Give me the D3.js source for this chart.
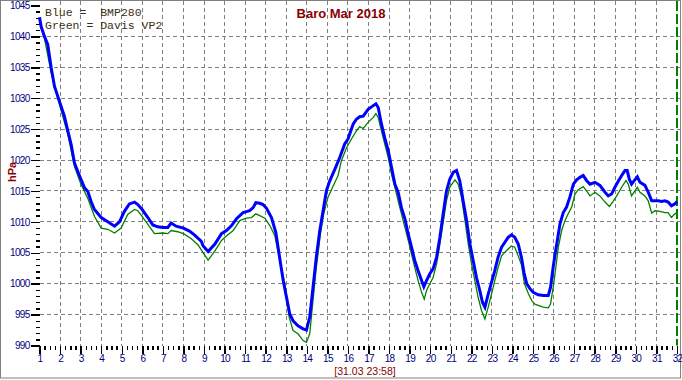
<!DOCTYPE html>
<html lang="en">
<head>
<meta charset="utf-8">
<title>Baro Mar 2018</title>
<script src="https://d3js.org/d3.v7.min.js"></script>
<style>
body {
  margin: 0;
  background: #fff;
}

.axis text {
  font: 10px "Liberation Sans", Arial, sans-serif;
  letter-spacing: -0.7px;
  fill: #000080;
}

.axis line {
  stroke: #000;
  stroke-width: 1.5;
  shape-rendering: crispEdges;
}

.grid line {
  stroke: #808080;
  stroke-width: 1;
  stroke-dasharray: 4,3;
  shape-rendering: crispEdges;
}

.legend {
  font: 11.5px "Liberation Mono", "Courier New", monospace;
  fill: #3c2f14;
  white-space: pre;
}
</style>
</head>
<body>
<svg width="682" height="380"></svg>
<script>
// days of March (fractional) and pressure readings, hPa
var blueDays = [1.00, 1.08, 1.24, 1.40, 1.57, 1.73, 1.89, 2.02, 2.21, 2.38, 2.54, 2.70, 2.99, 3.19, 3.35, 3.51, 3.67,
  4.00, 4.32, 4.65, 4.89, 5.13, 5.37, 5.62, 5.78, 5.99, 6.27, 6.51, 6.75, 7.00, 7.24, 7.40, 7.64, 8.00, 8.29, 8.53,
  8.86, 8.96, 9.20, 9.53, 9.85, 10.09, 10.34, 10.58, 10.90, 11.22, 11.39, 11.52, 11.71, 11.87, 12.04, 12.28, 12.49,
  12.65, 12.85, 13.04, 13.17, 13.33, 13.57, 13.82, 13.98, 14.14, 14.30, 14.46, 14.63, 14.79, 14.95, 15.11, 15.36,
  15.60, 15.84, 16.00, 16.25, 16.41, 16.57, 16.74, 16.98, 17.23, 17.36, 17.47, 17.63, 17.79, 17.96, 18.12, 18.28,
  18.44, 18.60, 18.77, 18.93, 19.09, 19.25, 19.41, 19.58, 19.69, 19.82, 19.98, 20.14, 20.31, 20.47, 20.63, 20.79,
  20.95, 21.12, 21.28, 21.44, 21.60, 21.77, 21.93, 22.09, 22.25, 22.41, 22.54, 22.66, 22.82, 22.98, 23.14, 23.30,
  23.47, 23.63, 23.79, 23.95, 24.11, 24.28, 24.44, 24.56, 24.69, 24.85, 25.01, 25.25, 25.50, 25.74, 25.85, 25.98,
  26.06, 26.18, 26.31, 26.47, 26.63, 26.79, 26.96, 27.12, 27.28, 27.44, 27.60, 27.77, 28.01, 28.25, 28.50, 28.66,
  28.82, 28.98, 29.15, 29.31, 29.47, 29.58, 29.68, 29.79, 29.95, 30.07, 30.20, 30.44, 30.60, 30.77, 30.93, 31.09,
  31.25, 31.41, 31.57, 31.73, 31.90, 32.00];
var bmp280 = [1043.1, 1041.6, 1040.0, 1038.7, 1034.9, 1031.9, 1030.3, 1029.0, 1027.1, 1024.7, 1022.5, 1019.5, 1017.1,
  1015.5, 1014.9, 1013.3, 1012.0, 1010.7, 1010.0, 1009.3, 1010.0, 1011.7, 1012.9, 1013.2, 1012.8, 1012.0, 1010.7,
  1009.5, 1009.2, 1009.1, 1009.1, 1009.8, 1009.3, 1009.0, 1008.5, 1007.9, 1006.9, 1006.1, 1005.2, 1006.4, 1008.1,
  1008.6, 1009.4, 1010.5, 1011.5, 1011.8, 1012.3, 1013.1, 1013.0, 1012.8, 1012.2, 1010.7, 1008.3, 1004.8, 1000.5,
  997.3, 995.1, 994.0, 993.2, 992.7, 992.5, 994.6, 999.4, 1004.3, 1008.6, 1011.8, 1015.0, 1016.6, 1018.5, 1020.4,
  1022.6, 1023.4, 1025.8, 1026.6, 1027.0, 1027.1, 1028.2, 1028.8, 1029.1, 1028.5, 1025.8, 1023.6, 1021.5, 1018.8,
  1016.1, 1014.8, 1012.3, 1010.5, 1008.0, 1005.9, 1003.7, 1002.1, 1000.5, 999.5, 1000.5, 1001.6, 1002.4, 1004.3,
  1007.5, 1011.3, 1015.0, 1016.9, 1018.0, 1018.3, 1016.6, 1013.4, 1010.2, 1006.4, 1003.7, 1001.0, 998.9, 997.0,
  996.2, 998.3, 1000.2, 1002.1, 1004.3, 1005.9, 1006.7, 1007.5, 1007.9, 1007.5, 1006.4, 1004.2, 1001.8, 1000.0,
  999.2, 998.6, 998.2, 998.1, 998.1, 999.4, 1002.7, 1004.5, 1007.0, 1009.7, 1011.5, 1012.4, 1014.0, 1016.1, 1016.8,
  1017.2, 1017.5, 1016.7, 1016.1, 1016.4, 1015.9, 1014.8, 1014.2, 1014.5, 1015.6, 1016.6, 1017.5, 1018.3, 1018.3,
  1016.9, 1016.1, 1016.8, 1017.3, 1016.4, 1015.9, 1014.8, 1013.4, 1013.4, 1013.4, 1013.3, 1013.4, 1013.2, 1012.6,
  1012.9, 1013.3];

var greenDays = [1.00, 1.24, 1.57, 1.89, 2.02, 2.38, 2.70, 2.99, 3.35, 3.67, 4.00, 4.32, 4.65, 4.97, 5.29, 5.62, 5.78,
  5.99, 6.27, 6.59, 7.00, 7.24, 7.40, 7.72, 8.00, 8.37, 8.70, 8.86, 9.20, 9.53, 9.85, 10.09, 10.42, 10.74, 11.06,
  11.31, 11.52, 11.71, 11.96, 12.20, 12.44, 12.69, 12.93, 13.14, 13.33, 13.57, 13.82, 13.98, 14.14, 14.30, 14.46,
  14.66, 14.82, 15.03, 15.28, 15.52, 15.68, 15.93, 16.17, 16.41, 16.57, 16.74, 16.98, 17.23, 17.36, 17.47, 17.63,
  17.79, 17.96, 18.12, 18.28, 18.44, 18.60, 18.77, 18.93, 19.09, 19.25, 19.41, 19.58, 19.71, 19.82, 19.98, 20.14,
  20.31, 20.47, 20.63, 20.79, 20.95, 21.20, 21.36, 21.52, 21.69, 21.85, 22.01, 22.17, 22.33, 22.49, 22.66, 22.82,
  22.98, 23.14, 23.30, 23.47, 23.63, 23.79, 23.95, 24.11, 24.28, 24.44, 24.58, 24.77, 24.93, 25.09, 25.25, 25.50,
  25.74, 25.85, 25.98, 26.11, 26.23, 26.39, 26.55, 26.71, 26.88, 27.04, 27.20, 27.44, 27.60, 27.77, 28.01, 28.25,
  28.50, 28.71, 28.87, 29.07, 29.31, 29.52, 29.63, 29.79, 29.95, 30.07, 30.20, 30.44, 30.60, 30.77, 30.93, 31.17,
  31.41, 31.57, 31.73, 31.90, 32.00];
var davisVP2 = [1042.4, 1039.7, 1034.1, 1030.0, 1028.4, 1024.1, 1019.0, 1016.3, 1013.8, 1010.9, 1009.0, 1008.8,
  1008.2, 1009.0, 1011.2, 1012.0, 1011.8, 1010.9, 1009.6, 1008.1, 1008.2, 1008.1, 1008.6, 1008.4, 1008.1, 1007.3,
  1006.3, 1005.5, 1003.8, 1005.3, 1007.0, 1007.7, 1008.6, 1010.2, 1010.6, 1010.7, 1011.3, 1011.0, 1010.6, 1009.4,
  1007.8, 1003.7, 1000.0, 994.6, 992.4, 991.9, 990.8, 990.5, 991.9, 997.3, 1002.6, 1008.0, 1011.3, 1014.0, 1015.8,
  1017.5, 1019.9, 1022.0, 1023.4, 1024.7, 1025.4, 1025.1, 1026.1, 1026.9, 1027.5, 1026.9, 1024.7, 1022.6, 1020.4,
  1017.7, 1015.6, 1013.4, 1011.3, 1009.1, 1007.0, 1004.8, 1002.6, 1000.5, 998.6, 997.5, 998.9, 1000.0, 1001.0,
  1003.2, 1006.4, 1009.9, 1013.4, 1015.6, 1016.8, 1016.1, 1014.0, 1010.2, 1006.4, 1003.2, 1000.5, 997.8, 995.7,
  994.3, 996.2, 998.3, 1000.5, 1002.6, 1004.5, 1005.1, 1005.6, 1006.1, 1005.9, 1004.5, 1003.0, 1000.0, 998.4, 997.3,
  996.7, 996.5, 996.2, 996.1, 996.7, 999.4, 1002.7, 1005.9, 1008.6, 1010.2, 1011.3, 1012.4, 1014.5, 1015.2, 1015.7,
  1015.0, 1014.2, 1014.8, 1014.2, 1013.2, 1012.5, 1013.2, 1014.2, 1015.6, 1016.7, 1016.1, 1014.2, 1015.0, 1015.6,
  1014.8, 1014.2, 1013.4, 1011.4, 1011.8, 1011.7, 1011.5, 1011.5, 1010.7, 1011.3, 1011.5];

var dayTicks = d3.range(1, 33);
var hpaTicks = d3.range(990, 1046, 5);

var svg = d3.select("svg"),
    xScale = d3.scaleLinear().domain([1, 32]).range([39.5, 677]),
    yScale = d3.scaleLinear().domain([990, 1045]).range([345.5, 5.5]);

// outer frame
svg.append("rect")
   .attr("x", 0.5).attr("y", 0.5)
   .attr("width", 680).attr("height", 377.5)
   .attr("fill", "#fff")
   .attr("stroke", "#808080")
   .attr("stroke-width", 1);

// grid
var grid = svg.append("g").attr("class", "grid");
grid.selectAll(".v")
    .data(dayTicks.slice(1, 31))
    .enter().append("line")
    .attr("x1", function(d) { return xScale(d); })
    .attr("x2", function(d) { return xScale(d); })
    .attr("y1", 1)
    .attr("y2", yScale(990));
grid.selectAll(".h")
    .data(hpaTicks.slice(1, 11))
    .enter().append("line")
    .attr("x1", xScale(1))
    .attr("x2", 680)
    .attr("y1", function(d) { return yScale(d); })
    .attr("y2", function(d) { return yScale(d); });

// end-of-data marker
svg.append("line")
   .attr("x1", xScale(32)).attr("x2", xScale(32))
   .attr("y1", 1).attr("y2", yScale(990))
   .attr("stroke", "#008000")
   .attr("stroke-width", 2)
   .attr("stroke-dasharray", "10,3");

// axes
var yAxis = svg.append("g")
   .attr("class", "axis")
   .attr("transform", "translate(" + xScale(1) + ",0)")
   .call(d3.axisLeft(yScale)
     .tickValues(d3.range(990, 1046, 1))
     .tickSize(9)
     .tickPadding(1)
     .tickFormat(function(d) { return d % 5 === 0 ? d : ""; }));
yAxis.select(".domain").remove();
yAxis.selectAll(".tick line")
   .attr("x2", function(d) { return d % 5 === 0 ? -9 : -4; });

var xAxis = svg.append("g")
   .attr("class", "axis")
   .attr("transform", "translate(0," + yScale(990) + ")")
   .call(d3.axisBottom(xScale)
     .tickValues(d3.range(1, 32.01, 0.25))
     .tickSize(8)
     .tickPadding(1)
     .tickFormat(function(d) { return d % 1 === 0 ? d : ""; }));
xAxis.select(".domain").remove();
xAxis.selectAll(".tick line")
   .attr("y2", function(d) { return d % 1 === 0 ? 8 : 4; });

// series
var line = d3.line()
   .x(function(d) { return xScale(d[0]); })
   .y(function(d) { return yScale(d[1]); });

svg.append("path")
   .datum(d3.zip(greenDays, davisVP2))
   .attr("fill", "none")
   .attr("stroke", "#008000")
   .attr("stroke-width", 1.3)
   .attr("d", line);

svg.append("path")
   .datum(d3.zip(blueDays, bmp280))
   .attr("fill", "none")
   .attr("stroke", "#0000ff")
   .attr("stroke-width", 3)
   .attr("d", line);

// texts
svg.append("text")
   .attr("x", 341)
   .attr("y", 18)
   .attr("text-anchor", "middle")
   .attr("fill", "#8b0000")
   .style("font", "bold 13px 'Liberation Sans', Arial, sans-serif")
   .text("Baro Mar 2018");

svg.append("text")
   .attr("class", "legend")
   .attr("x", 45)
   .attr("y", 16)
   .text("Blue =  BMP280");
svg.append("text")
   .attr("class", "legend")
   .attr("x", 45)
   .attr("y", 29)
   .text("Green = Davis VP2");

svg.append("text")
   .attr("transform", "translate(15.5,172) rotate(-90)")
   .attr("text-anchor", "middle")
   .attr("fill", "#8b0000")
   .style("font", "bold 11px 'Liberation Sans', Arial, sans-serif")
   .text("hPa");

svg.append("text")
   .attr("x", 365)
   .attr("y", 374.5)
   .attr("text-anchor", "middle")
   .attr("fill", "#8b0000")
   .style("font", "10.5px 'Liberation Sans', Arial, sans-serif")
   .text("[31.03 23:58]");
</script>
</body>
</html>
